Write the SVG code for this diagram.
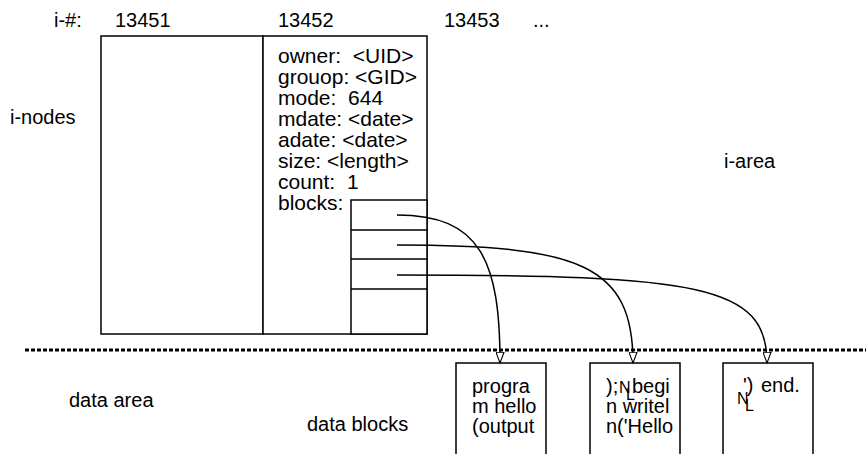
<svg xmlns="http://www.w3.org/2000/svg" width="866" height="454" viewBox="0 0 866 454">
<style>
text{font-family:"Liberation Sans",Arial,sans-serif;font-size:20px;fill:#000;white-space:pre}
.attr{font-size:21px}
.sm{font-size:16px}
.box{fill:#fff;stroke:#000;stroke-width:1.5}
.ln{fill:none;stroke:#000;stroke-width:1.5}
.arr{fill:none;stroke:#000;stroke-width:1.5;marker-end:url(#ah)}
</style>
<defs>
<marker id="ah" viewBox="0 0 12 10" refX="12" refY="5" markerWidth="12" markerHeight="9" markerUnits="userSpaceOnUse" orient="auto">
<path d="M0,0.5 L12,5 L0,9.5 Z" fill="#fff" stroke="#000" stroke-width="1.2"/>
</marker>
</defs>
<rect width="866" height="454" fill="#fff"/>
<g id="labels">
<text x="54" y="27">i-#:</text>
<text x="115" y="27">13451</text>
<text x="278" y="27">13452</text>
<text x="444" y="27">13453</text>
<text x="533" y="27">...</text>
<text x="10" y="124">i-nodes</text>
<text x="724" y="168">i-area</text>
<text x="69" y="407">data area</text>
<text x="307" y="431">data blocks</text>
</g>
<g id="inode-13451">
<rect class="box" x="101" y="36" width="162" height="298"/>
</g>
<g id="inode-13452">
<rect class="box" x="263" y="36" width="164" height="298"/>
<text class="attr" x="278" y="63">owner:  &lt;UID&gt;</text>
<text class="attr" x="278" y="84">grouop: &lt;GID&gt;</text>
<text class="attr" x="278" y="105">mode:  644</text>
<text class="attr" x="278" y="126">mdate: &lt;date&gt;</text>
<text class="attr" x="278" y="147">adate: &lt;date&gt;</text>
<text class="attr" x="278" y="168">size: &lt;length&gt;</text>
<text class="attr" x="278" y="189">count:  1</text>
<text class="attr" x="278" y="210">blocks:</text>
</g>
<g id="block-table">
<rect class="box" x="351" y="200" width="76" height="134"/>
<path class="ln" d="M351,230 H427 M351,259 H427 M351,289 H427"/>
</g>
<g id="separator">
<line x1="25" y1="350" x2="866" y2="350" stroke="#000" stroke-width="3" stroke-dasharray="4 2"/>
</g>
<g id="data-block-1">
<rect class="box" x="456" y="363" width="90" height="100"/>
<text x="472" y="393">progra</text>
<text x="472" y="413">m hello</text>
<text x="472" y="433">(output</text>
</g>
<g id="data-block-2">
<rect class="box" x="590" y="363" width="90" height="100"/>
<text x="606" y="393">);</text>
<text class="sm" x="619" y="393">N</text>
<text class="sm" x="626" y="400">L</text>
<text x="632" y="393">begi</text>
<text x="606" y="413">n writel</text>
<text x="606" y="433">n('Hello</text>
</g>
<g id="data-block-3">
<rect class="box" x="723" y="363" width="90" height="100"/>
<text x="743" y="392">')</text>
<text x="761" y="392">end.</text>
<text class="sm" x="737" y="404">N</text>
<text class="sm" x="745" y="411">L</text>
</g>
<g id="connectors">
<path class="arr" d="M397,215 C480,215 500,260 500,363"/>
<path class="arr" d="M397,245 C580,245 633,265 633,363"/>
<path class="arr" d="M397,275 C700,275 767,285 767,363"/>
</g>
</svg>
